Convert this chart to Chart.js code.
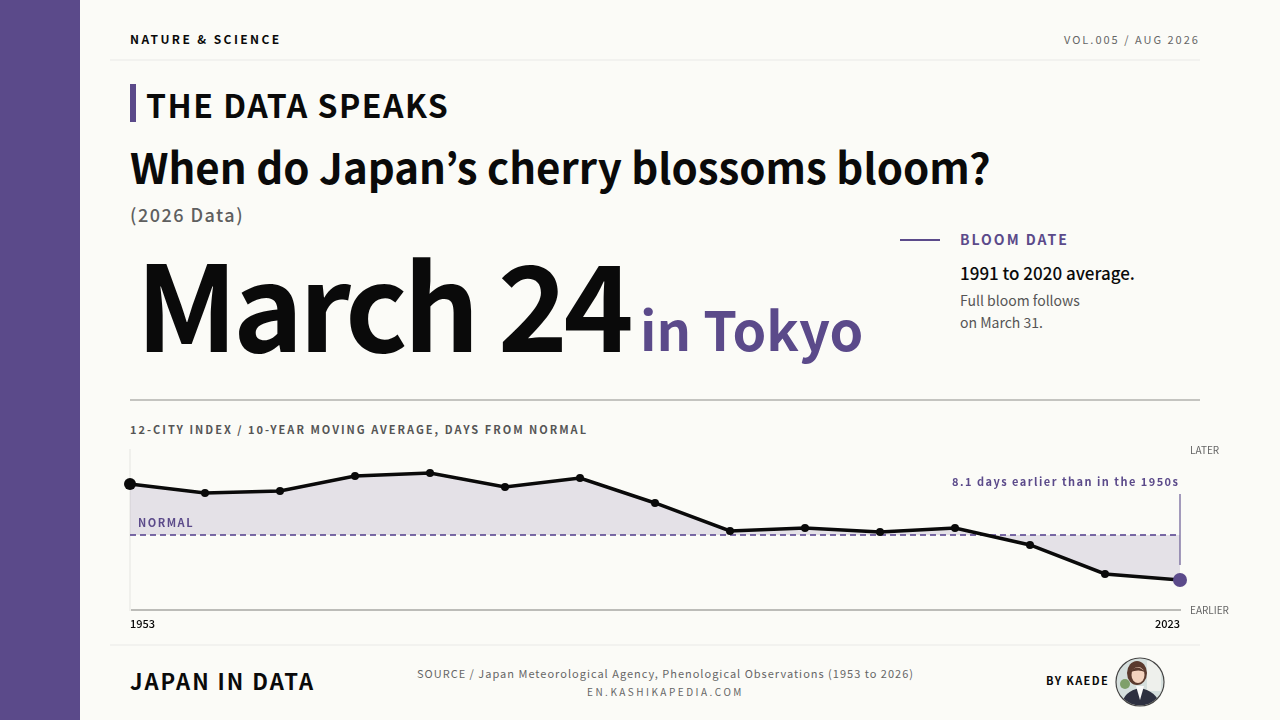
<!DOCTYPE html>
<html><head><meta charset="utf-8">
<script src="https://cdn.jsdelivr.net/npm/chart.js@4"></script>
<style>
*{margin:0;padding:0;box-sizing:border-box}
html,body{width:1280px;height:720px;overflow:hidden;background:#fbfbf7;font-family:"Noto Sans CJK JP","Noto Sans",sans-serif;color:#0a0a0a}
.t{position:absolute;white-space:nowrap;line-height:1}
.r{position:absolute}
#side{left:0;top:0;width:80px;height:720px;background:#5b4a8a}
#wrap{position:absolute;left:110px;top:440px;width:1130px;height:200px}
</style></head><body>
<div class="r" id="side"></div>
<div class="t" style="left:130px;top:33px;font-size:12px;font-weight:700;letter-spacing:2.4px">NATURE &amp; SCIENCE</div>
<div class="t" style="left:1064px;top:34px;font-size:11px;letter-spacing:2px;color:#666">VOL.005 / AUG 2026</div>
<div class="r" style="left:110px;top:59px;width:1090px;height:2px;background:#f2f2ef"></div>
<div class="r" style="left:130px;top:84px;width:6px;height:38px;background:#5b4a8a"></div>
<div class="t" style="left:146px;top:88px;font-size:32px;font-weight:700;letter-spacing:1.5px">THE DATA SPEAKS</div>
<div class="t" style="left:130px;top:145px;font-size:42px;font-weight:700">When do Japan’s cherry blossoms bloom?</div>
<div class="t" style="left:130px;top:205px;font-size:18px;font-weight:500;letter-spacing:1.5px;color:#5f5f5f">(2026 Data)</div>
<div class="t" style="left:136px;top:241px;font-size:119px;font-weight:700;letter-spacing:-4.4px">March 24</div>
<div class="t" style="left:640px;top:301px;font-size:54px;font-weight:700;color:#5b4a8a">in Tokyo</div>
<div class="r" style="left:900px;top:239px;width:40px;height:2px;background:#5b4a8a"></div>
<div class="t" style="left:960px;top:232px;font-size:14px;font-weight:700;letter-spacing:2px;color:#5b4a8a">BLOOM DATE</div>
<div class="t" style="left:960px;top:264px;font-size:17px;font-weight:500">1991 to 2020 average.</div>
<div class="t" style="left:960px;top:293px;font-size:14px;color:#555">Full bloom follows</div>
<div class="t" style="left:960px;top:315px;font-size:14px;color:#555">on March 31.</div>
<div class="r" style="left:130px;top:399px;width:1070px;height:2px;background:#c4c4c0"></div>
<div class="t" style="left:130px;top:424px;font-size:11px;font-weight:700;letter-spacing:2px;color:#555">12-CITY INDEX / 10-YEAR MOVING AVERAGE, DAYS FROM NORMAL</div>
<div id="wrap"><canvas id="c" width="1130" height="200"></canvas></div>
<div class="t" style="left:138px;top:517px;font-size:11px;font-weight:700;letter-spacing:1.5px;color:#5b4a8a">NORMAL</div>
<div class="t" style="left:952px;top:476px;font-size:11px;font-weight:700;letter-spacing:1.47px;color:#5b4a8a">8.1 days earlier than in the 1950s</div>
<div class="r" style="left:110px;top:644px;width:1090px;height:2px;background:#f2f2ef"></div>
<div class="t" style="left:130px;top:669px;font-size:22px;font-weight:700;letter-spacing:2px">JAPAN IN DATA</div>
<div class="t" style="left:417px;top:668px;font-size:11px;letter-spacing:1px;color:#666">SOURCE / Japan Meteorological Agency, Phenological Observations (1953 to 2026)</div>
<div class="t" style="left:587px;top:687px;font-size:10px;letter-spacing:2.5px;color:#666">EN.KASHIKAPEDIA.COM</div>
<div class="t" style="left:1046px;top:675px;font-size:11px;font-weight:700;letter-spacing:1.4px">BY KAEDE</div>
<svg class="r" style="left:1115px;top:657px" width="50" height="50" viewBox="0 0 50 50">
<defs><clipPath id="cp"><circle cx="25" cy="25" r="23.5"/></clipPath></defs>
<g clip-path="url(#cp)">
<rect width="50" height="50" fill="#d5dfdd"/>
<rect x="32" y="4" width="14" height="30" fill="#eef0ec"/>
<circle cx="10" cy="27" r="5" fill="#7fa06a"/>
<path d="M6 50 Q8 34 25 31 Q42 34 46 50Z" fill="#2d3040"/>
<path d="M21 29 L25 43 L29 29Z" fill="#fafafa"/>
<ellipse cx="22" cy="16" rx="10" ry="12" fill="#5a3a2e"/>
<ellipse cx="23" cy="18" rx="6.5" ry="8" fill="#f3d3bf"/>
<path d="M15 15 Q22 6 30 15 Q24 12 15 15Z" fill="#5a3a2e"/>
</g>
<circle cx="25" cy="25" r="24" fill="none" stroke="#444" stroke-width="1.2"/>
</svg>
<script>
const categories=[1953,1958,1963,1968,1973,1978,1983,1988,1993,1998,2003,2008,2013,2018,2023];
const daysFromNormal=[4.30,3.54,3.71,4.98,5.23,4.05,4.81,2.70,0.34,0.59,0.25,0.59,-0.84,-3.29,-3.80];
const normalLine=[0,0,0,0,0,0,0,0,0,0,0,0,0,0,0];
const axisRange=[-6.33,7.17];
const directionLabels=['EARLIER','LATER'];
const bracketDays=[3.46,-2.53];
const purple='#5b4a8a',ink='#0a0a0a';
const lastI=categories.length-1;
const bracket={id:'bracket',afterDatasetsDraw(ch){
  const x=ch.scales.x.getPixelForValue(lastI),y=ch.scales.y,g=ch.ctx;
  g.save();g.strokeStyle='rgba(91,74,138,.55)';g.lineWidth=2;g.beginPath();
  g.moveTo(x,y.getPixelForValue(bracketDays[0]));g.lineTo(x,y.getPixelForValue(bracketDays[1]));g.stroke();g.restore();
}};
new Chart(document.getElementById('c'),{
  type:'line',
  data:{labels:categories,datasets:[
    {data:daysFromNormal,borderColor:ink,borderWidth:3.5,tension:0,clip:false,
     fill:{target:{value:0}},backgroundColor:'rgba(91,74,138,.14)',
     pointRadius:categories.map((_,i)=>i===0?6:i===lastI?7:4),
     pointBackgroundColor:categories.map((_,i)=>i===lastI?purple:ink),
     pointBorderWidth:0,order:0},
    {data:normalLine,borderColor:'#7a6aa6',borderWidth:2,borderDash:[6,4],pointRadius:0,fill:false,tension:0,order:1}
  ]},
  plugins:[bracket],
  options:{
    responsive:false,animation:false,
    layout:{padding:{left:20,top:10,right:0,bottom:0}},
    plugins:{legend:{display:false},tooltip:{enabled:false}},
    scales:{
      x:{type:'category',offset:false,grid:{display:false,drawTicks:false},
         border:{color:'#bcbcb8',width:2},
         afterFit(s){s.height=30},
         ticks:{autoSkip:false,maxRotation:0,align:'inner',padding:7,color:'#0a0a0a',
           font:{family:'"Noto Sans CJK JP"',size:11,weight:500},
           callback(v,i){return i===0||i===lastI?String(categories[i]):''}}},
      y:{min:axisRange[0],max:axisRange[1],position:'left',grid:{display:false},
         border:{color:'#f0f0ec',width:2},ticks:{display:false},afterFit(s){s.width=0}},
      yr:{min:axisRange[0],max:axisRange[1],position:'right',grid:{display:false},border:{display:false},
         afterBuildTicks(s){s.ticks=axisRange.map(v=>({value:v}))},
         afterFit(s){s.width=60},
         ticks:{padding:2,color:'#666',autoSkip:false,font:{family:'"Noto Sans CJK JP"',size:10},
           callback(v){return v===axisRange[0]?directionLabels[0]:directionLabels[1]}}}
    }
  }
});
</script>
</body></html>
